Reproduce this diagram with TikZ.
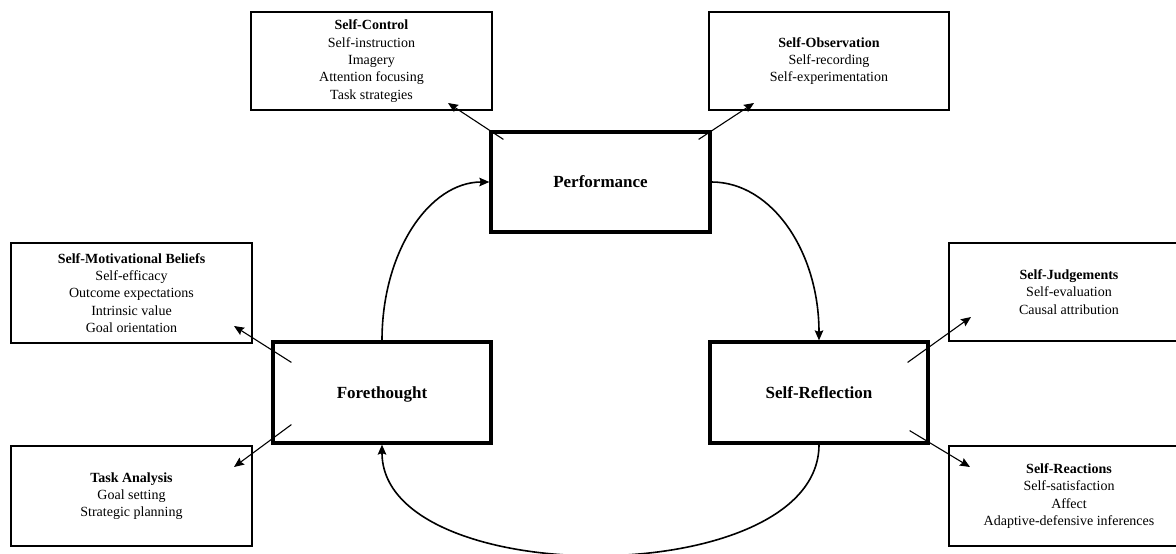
\documentclass[tikz,border=0pt]{standalone}
\usepackage{fontspec}
\setmainfont{Liberation Serif}
\usetikzlibrary{arrows.meta,calc}
\begin{document}
\begin{tikzpicture}[x=1pt,y=-1pt,
  subbox/.style={draw, line width=2pt, minimum width=#1, align=center, inner sep=0pt,
    font=\fontsize{14}{17.3}\selectfont},
  phase/.style={draw, line width=3.2pt, minimum width=218, minimum height=101,
    inner sep=0pt, text height=11.6pt, text depth=0pt,
    font=\fontsize{17}{20}\selectfont\bfseries},
  cycle/.style={line width=1.6pt, -{Stealth[length=10pt,width=8.5pt,inset=1.5pt]}},
  link/.style={line width=1.1pt, -{Stealth[length=10pt,width=8.5pt,inset=1.5pt]}}
]
\useasboundingbox (0,0) rectangle (1176,554);
% main phases
\node[phase, minimum width=219, minimum height=100] (perf) at (600.5,182) {Performance};
\node[phase] (fore) at (382,392.5) {Forethought};
\node[phase] (refl) at (819,392.5) {Self-Reflection};
% sub-process boxes
\node[subbox=241, minimum height=98] (sc) at (371.5,61)
  {\textbf{Self-Control}\\Self-instruction\\Imagery\\Attention focusing\\Task strategies};
\node[subbox=240, minimum height=98] (so) at (829,61)
  {\textbf{Self-Observation}\\Self-recording\\Self-experimentation};
\node[subbox=241, minimum height=100] (smb) at (131.5,293)
  {\textbf{Self-Motivational Beliefs}\\Self-efficacy\\Outcome expectations\\Intrinsic value\\Goal orientation};
\node[subbox=241, minimum height=100] (ta) at (131.5,496)
  {\textbf{Task Analysis}\\Goal setting\\Strategic planning};
\node[subbox=240, minimum height=98] (sj) at (1069,292)
  {\textbf{Self-Judgements}\\Self-evaluation\\Causal attribution};
\node[subbox=240, minimum height=100] (sr) at (1069,496)
  {\textbf{Self-Reactions}\\Self-satisfaction\\Affect\\Adaptive-defensive inferences};
% cycle
\draw[cycle] (fore.north) .. controls +(0,-89) and +(-60,0) .. (perf.west);
\draw[cycle] (perf.east) .. controls +(60,0) and +(0,-89) .. (refl.north);
\draw[cycle] (refl.south) .. controls +(0,147) and +(0,147) .. (fore.south);
% links to sub-processes
\draw[link] ([shift={(14,9)}]perf.north west) -- ([shift={(-45,-8)}]sc.south east);
\draw[link] ([shift={(-13,9)}]perf.north east) -- ([shift={(46,-8)}]so.south west);
\draw[link] ([shift={(20,22)}]fore.north west) -- ([shift={(-19,-18)}]smb.south east);
\draw[link] ([shift={(20,-20)}]fore.south west) -- ([shift={(-19,22)}]ta.north east);
\draw[link] ([shift={(-22,22)}]refl.north east) -- ([shift={(23,-25)}]sj.south west);
\draw[link] ([shift={(-20,-14)}]refl.south east) -- ([shift={(22,22)}]sr.north west);
\end{tikzpicture}
\end{document}
